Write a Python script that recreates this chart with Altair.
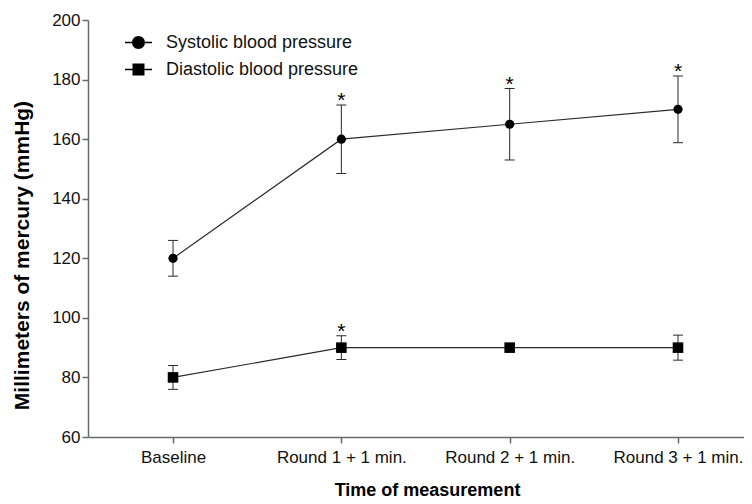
import altair as alt
import pandas as pd

categories = ["Baseline", "Round 1 + 1 min.", "Round 2 + 1 min.", "Round 3 + 1 min."]
series_names = ["Systolic blood pressure", "Diastolic blood pressure"]
systolic_mean = [120, 160, 165, 170]
systolic_err = [6, 11.5, 12, 11.2]
systolic_sig = ["", "*", "*", "*"]
diastolic_mean = [80, 90, 90, 90]
diastolic_err = [4, 4, 0, 4.2]
diastolic_sig = ["", "*", "", ""]
y_ticks = [60, 80, 100, 120, 140, 160, 180, 200]

rows = []
for name, means, errs, sigs in [
    (series_names[0], systolic_mean, systolic_err, systolic_sig),
    (series_names[1], diastolic_mean, diastolic_err, diastolic_sig),
]:
    for c, m, e, s in zip(categories, means, errs, sigs):
        rows.append(dict(series=name, time=c, mean=m, err=e, lo=m - e, hi=m + e, sig=s))
df = pd.DataFrame(rows)

FONT = "Liberation Sans"
AX = "#6a6a6a"
INK = "#2a2a2a"

x_enc = alt.X(
    "time:N",
    sort=categories,
    scale=alt.Scale(type="point", padding=0.4486, align=0.563),
    axis=alt.Axis(
        title="Time of measurement",
        titleFont=FONT, titleFontSize=18, titleFontWeight="bold", titleColor="black",
        titleX=339, titleY=53, titleBaseline="middle",
        labelFont=FONT, labelFontSize=17, labelColor="#111111", labelAngle=0, labelPadding=6,
        tickSize=6, tickColor=AX, tickWidth=1.5, domainColor=AX, domainWidth=1.5, grid=False,
    ),
)

y_scale = alt.Scale(domain=[60, 200], nice=False, zero=False)
y_axis = alt.Axis(
    values=y_ticks,
    title="Millimeters of mercury (mmHg)",
    titleFont=FONT, titleFontSize=21, titleFontWeight="bold", titleColor="black",
    titleX=-66, titleY=235, titleBaseline="middle",
    labelFont=FONT, labelFontSize=17, labelColor="#111111", labelPadding=2,
    tickSize=6, tickColor=AX, tickWidth=1.5, domainColor=AX, domainWidth=1.5, grid=False,
)


def Y(field):
    return alt.Y(field, scale=y_scale, axis=y_axis)


base = alt.Chart(df)

lines = base.mark_line(color=INK, strokeWidth=1.2).encode(
    x=x_enc, y=Y("mean:Q"), detail="series:N"
)

eb = base.transform_filter("datum.err > 0")
rules = eb.mark_rule(color=INK, strokeWidth=1).encode(x=x_enc, y=Y("lo:Q"), y2="hi:Q")
caps_lo = eb.mark_tick(color=INK, size=10, thickness=1, opacity=1).encode(x=x_enc, y=Y("lo:Q"))
caps_hi = eb.mark_tick(color=INK, size=10, thickness=1, opacity=1).encode(x=x_enc, y=Y("hi:Q"))

pts_sys = base.transform_filter(alt.datum.series == series_names[0]).mark_point(
    filled=True, color="black", opacity=1, shape="circle", size=85
).encode(x=x_enc, y=Y("mean:Q"))
pts_dia = base.transform_filter(alt.datum.series == series_names[1]).mark_point(
    filled=True, color="black", opacity=1, shape="square", size=112
).encode(x=x_enc, y=Y("mean:Q"))

stars = base.transform_filter("datum.sig != ''").mark_text(
    font=FONT, fontSize=21, baseline="alphabetic", dy=2.5, color="black"
).encode(x=x_enc, y=Y("hi:Q"), text="sig:N")

# legend glyphs: a thin filled bar (the line) plus the marker, both drawn clockwise
bar = "M-1.35,-0.07H1.35V0.07H-1.35Z"
circle_path = bar + "M-0.65,0A0.65,0.65,0,1,1,0.65,0A0.65,0.65,0,1,1,-0.65,0Z"
square_path = bar + "M-0.6,-0.6H0.6V0.6H-0.6Z"

legend_layer = base.mark_point(
    filled=True, color="black", opacity=0, size=400
).encode(
    x=x_enc,
    y=Y("mean:Q"),
    shape=alt.Shape(
        "series:N",
        sort=series_names,
        scale=alt.Scale(domain=series_names, range=[circle_path, square_path]),
        legend=alt.Legend(
            title=None, orient="none", legendX=40.5, legendY=12.5, padding=0,
            symbolSize=400, symbolStrokeWidth=0, symbolFillColor="black",
            symbolOpacity=1,
            labelFont=FONT, labelFontSize=18, labelColor="#111111",
            labelOffset=17.5, labelLimit=400, rowPadding=8,
        ),
    ),
)

chart = (
    alt.layer(lines, rules, caps_lo, caps_hi, pts_sys, pts_dia, stars, legend_layer)
    .properties(
        width=656,
        height=417,
        autosize=alt.AutoSizeParams(type="none"),
        padding={"left": 80, "top": 12, "right": 0, "bottom": 63},
        background="white",
    )
    .configure_view(stroke=None)
)

chart.save("out.html", embed_options={"renderer": "svg", "actions": False})
